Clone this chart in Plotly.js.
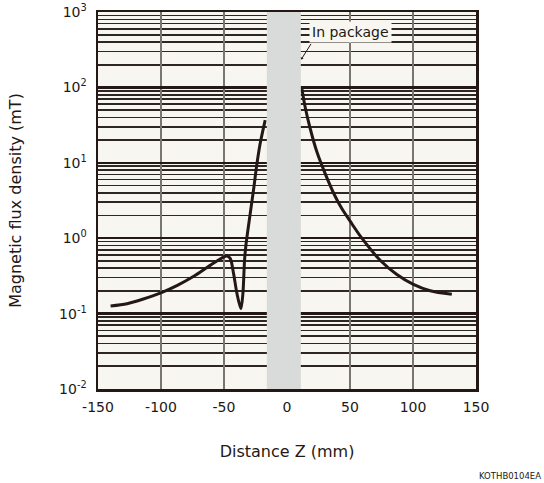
<!DOCTYPE html>
<html>
<head>
<meta charset="utf-8">
<script src="https://cdn.plot.ly/plotly-3.0.1.min.js"></script>
<style>html,body{margin:0;padding:0;background:#fff;}#chart{width:544px;height:483px;}</style>
</head>
<body>
<div id="chart"></div>
<script>
// Measured curve, left of package (Z in mm, B in mT)
const leftZ = [-140, -127, -114, -100.6, -87, -74, -61, -50.4, -47.7, -45, -42.4, -39.7, -36.6, -35, -33.7, -32.6, -29.2, -26.6, -23.9, -21.3, -17.3];
const leftB = [0.126, 0.135, 0.156, 0.187, 0.237, 0.312, 0.436, 0.562, 0.58, 0.536, 0.339, 0.184, 0.116, 0.184, 0.509, 0.806, 2.12, 4.33, 9.6, 18, 36.8];
// Measured curve, right of package
const rightZ = [11.8, 14.4, 18.4, 23.7, 30.3, 38.2, 43.5, 50.1, 59.4, 73.9, 87.2, 100.3, 113.6, 130.8];
const rightB = [97, 55, 28.5, 14, 7.2, 3.6, 2.47, 1.68, 1.0, 0.51, 0.33, 0.244, 0.201, 0.18];
// Package region (mm)
const pkgRange = [-16, 11];
const pkgLabel = 'In package';
const xTicks = [-150, -100, -50, 0, 50, 100, 150];
const yTicks = [0.01, 0.1, 1, 10, 100, 1000];
const yTickText = ['10<sup>-2</sup>', '10<sup>-1</sup>', '10<sup>0</sup>', '10<sup>1</sup>', '10<sup>2</sup>', '10<sup>3</sup>'];
const xTitle = 'Distance Z (mm)';
const yTitle = 'Magnetic flux density (mT)';
const code = 'KOTHB0104EA';

const ink = '#231815';
const font = 'DejaVu Sans, Verdana, sans-serif';
const lineStyle = {color: ink, width: 3, shape: 'spline', smoothing: 0.8};

const traces = [
  {x: leftZ, y: leftB, mode: 'lines', line: lineStyle, hoverinfo: 'skip'},
  {x: rightZ, y: rightB, mode: 'lines', line: lineStyle, hoverinfo: 'skip'}
];

const layout = {
  width: 544, height: 483,
  margin: {l: 98, r: 68, t: 12, b: 94},
  paper_bgcolor: '#ffffff',
  plot_bgcolor: '#f7f6f0',
  showlegend: false,
  font: {family: font, color: ink, size: 14},
  xaxis: {
    range: [-150, 150], tickvals: xTicks, ticktext: xTicks.map(String),
    showgrid: true, gridcolor: '#7b7570', gridwidth: 2,
    zeroline: false, showline: true, linecolor: ink, linewidth: 2.5, mirror: true,
    ticks: 'outside', ticklen: 4, tickcolor: 'rgba(0,0,0,0)',
    tickfont: {size: 14},
    title: {text: xTitle, font: {size: 16}, standoff: 32}
  },
  yaxis: {
    type: 'log', range: [-2, 3], tickvals: yTicks, ticktext: yTickText,
    showgrid: true, gridcolor: ink, gridwidth: 2.5,
    minor: {dtick: 'D1', showgrid: true, gridcolor: '#2e2623', gridwidth: 1.6, ticks: ''},
    zeroline: false, showline: true, linecolor: ink, linewidth: 2.5, mirror: true,
    ticks: 'outside', ticklen: 6, tickcolor: 'rgba(0,0,0,0)',
    tickfont: {size: 14},
    title: {text: yTitle, font: {size: 16}, standoff: 34}
  },
  shapes: [{
    type: 'rect', xref: 'x', yref: 'paper', x0: pkgRange[0], x1: pkgRange[1], y0: 0, y1: 1,
    fillcolor: '#d9dada', line: {width: 0}, layer: 'above'
  }],
  annotations: [
    {x: 50, y: Math.log10(540), xref: 'x', yref: 'y', text: pkgLabel, showarrow: false,
     bgcolor: '#f7f6f0', borderpad: 2, font: {size: 14, color: ink}},
    {x: 11.3, y: Math.log10(235), xref: 'x', yref: 'y', text: '', showarrow: true,
     ax: 10.7, ay: -17, arrowhead: 1, arrowsize: 0.6, arrowwidth: 1, arrowcolor: ink, standoff: 0},
    {x: 1.177, y: -0.23, xref: 'paper', yref: 'paper', xanchor: 'right', yanchor: 'middle',
     text: code, showarrow: false, font: {size: 8.5, color: ink}}
  ]
};

Plotly.newPlot('chart', traces, layout, {staticPlot: true, displayModeBar: false});
</script>
</body>
</html>
